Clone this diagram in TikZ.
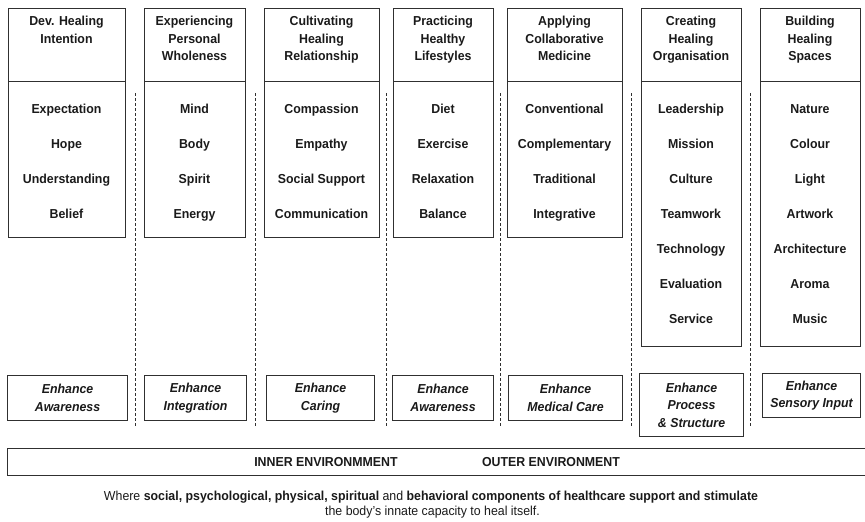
\documentclass[tikz,border=0pt]{standalone}
\usepackage{fontspec}
\setmainfont[FakeStretch=0.95]{Liberation Sans}
\definecolor{ink}{HTML}{1A1A1A}
\definecolor{edge}{HTML}{303030}
\begin{document}
\begin{tikzpicture}[x=1pt,y=-1pt,
  box/.style={draw=edge, line width=1.1pt, inner sep=0pt, anchor=north west},
  hdrtext/.style={anchor=north, inner sep=0pt, align=center, text=ink, font=\fontsize{13}{17.5}\selectfont\bfseries},
  item/.style={anchor=base, inner sep=0pt, text=ink, font=\fontsize{13}{17.5}\selectfont\bfseries},
  enh/.style={box, align=center, text=ink, font=\fontsize{13}{17.5}\selectfont\bfseries\itshape},
  sep/.style={draw=edge, line width=0.9pt, dash pattern=on 3pt off 2pt},
  envtext/.style={anchor=base, inner sep=0pt, text=ink, font=\fontsize{13}{15}\selectfont\bfseries},
  captext/.style={anchor=base, inner sep=0pt, text=ink, font=\fontsize{13}{15}\selectfont}
]
\useasboundingbox (0,0) rectangle (865,522);

% header boxes
\node[box, minimum width=117pt, minimum height=73pt] (h1) at (8,8) {};
\node[box, minimum width=101pt, minimum height=73pt] (h2) at (144,8) {};
\node[box, minimum width=115pt, minimum height=73pt] (h3) at (264,8) {};
\node[box, minimum width=100pt, minimum height=73pt] (h4) at (393,8) {};
\node[box, minimum width=115pt, minimum height=73pt] (h5) at (507,8) {};
\node[box, minimum width=100pt, minimum height=73pt] (h6) at (641,8) {};
\node[box, minimum width=100pt, minimum height=73pt] (h7) at (760,8) {};

% body boxes
\node[box, minimum width=117pt, minimum height=156pt] (b1) at (8,81) {};
\node[box, minimum width=101pt, minimum height=156pt] (b2) at (144,81) {};
\node[box, minimum width=115pt, minimum height=156pt] (b3) at (264,81) {};
\node[box, minimum width=100pt, minimum height=156pt] (b4) at (393,81) {};
\node[box, minimum width=115pt, minimum height=156pt] (b5) at (507,81) {};
\node[box, minimum width=100pt, minimum height=265pt] (b6) at (641,81) {};
\node[box, minimum width=100pt, minimum height=265pt] (b7) at (760,81) {};

% header texts
\node[hdrtext] (t1) at (66.5,16) {Dev. Healing\\Intention};
\node[hdrtext] (t2) at (194.5,16) {Experiencing\\Personal\\Wholeness};
\node[hdrtext] (t3) at (321.5,16) {Cultivating\\Healing\\Relationship};
\node[hdrtext] (t4) at (443,16) {Practicing\\Healthy\\Lifestyles};
\node[hdrtext] (t5) at (564.5,16) {Applying\\Collaborative\\Medicine};
\node[hdrtext] (t6) at (691,16) {Creating\\Healing\\Organisation};
\node[hdrtext] (t7) at (810,16) {Building\\Healing\\Spaces};

% items
\foreach \c/\x/\lst in {1/66.5/{Expectation,Hope,Understanding,Belief},
                         2/194.5/{Mind,Body,Spirit,Energy},
                         3/321.5/{Compassion,Empathy,Social Support,Communication},
                         4/443/{Diet,Exercise,Relaxation,Balance},
                         5/564.5/{Conventional,Complementary,Traditional,Integrative},
                         6/691/{Leadership,Mission,Culture,Teamwork,Technology,Evaluation,Service},
                         7/810/{Nature,Colour,Light,Artwork,Architecture,Aroma,Music}}{
  \foreach \w [count=\k from 0] in \lst {
    \node[item] (i\c-\k) at (\x,113+35.1*\k) {\w};
  }
}

% separators
\foreach \x in {135,255,386,500,631,750}{
  \draw[sep] (\x,93) -- (\x,427);
}

% enhance boxes
\node[enh, minimum width=120pt, minimum height=45pt] (e1) at (7,375) {Enhance\\Awareness};
\node[enh, minimum width=102pt, minimum height=45pt] (e2) at (144,375) {Enhance\\Integration};
\node[enh, minimum width=108pt, minimum height=45pt] (e3) at (266,375) {Enhance\\Caring};
\node[enh, minimum width=101pt, minimum height=45pt] (e4) at (392,375) {Enhance\\Awareness};
\node[enh, minimum width=114pt, minimum height=45pt] (e5) at (508,375) {Enhance\\Medical Care};
\node[enh, minimum width=104pt, minimum height=63pt] (e6) at (639,373) {Enhance\\Process\\\&\ Structure};
\node[enh, minimum width=98pt, minimum height=44pt] (e7) at (762,373) {Enhance\\Sensory Input};

% environment band
\node[box, minimum width=866pt, minimum height=27pt] (env) at (7,448) {};
\node[envtext] (inner) at (326,466.5) {INNER ENVIRONMMENT};
\node[envtext] (outer) at (551,466.5) {OUTER ENVIRONMENT};

% caption
\node[captext] (cap1) at (431,500) {Where \textbf{social, psychological, physical, spiritual} and \textbf{behavioral components of healthcare support and stimulate}};
\node[captext] (cap2) at (432.5,515.5) {the body's innate capacity to heal itself.};
\end{tikzpicture}
\end{document}
